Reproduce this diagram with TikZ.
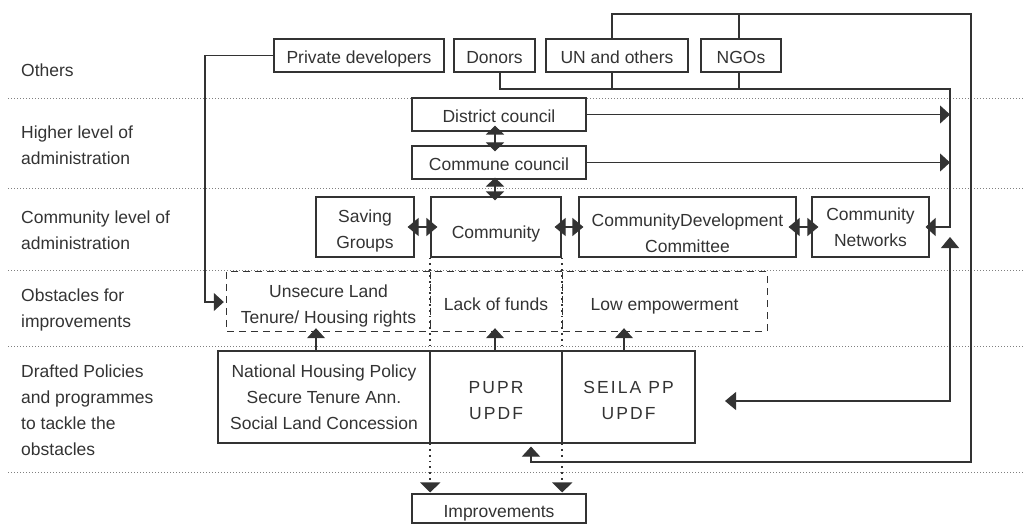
\documentclass[tikz,border=0pt]{standalone}
\usepackage{fontspec}
\setmainfont{Liberation Sans}
\usetikzlibrary{arrows.meta,calc}
\definecolor{ink}{HTML}{333333}
\newcommand{\lowerby}[2]{\raisebox{-#1}[0pt][0pt]{\begin{tabular}{@{}c@{}}#2\end{tabular}}}
\begin{document}
\begin{tikzpicture}[x=1pt,y=-1pt,
  font=\fontsize{17.5}{26}\selectfont,
  box/.style={draw=ink, line width=1.1pt, text=ink, inner sep=0pt, align=center, minimum height=33pt},
  one/.style={text height=17pt, text depth=0pt},
  tall/.style={box, minimum height=60pt},
  obs/.style={inner sep=0pt, text=ink, align=center, minimum height=59pt},
  conn/.style={draw=ink, line width=1.1pt},
  tip/.style={-{Triangle[width=18pt,length=10pt]}},
  dbl/.style={{Triangle[width=18pt,length=11pt]}-{Triangle[width=18pt,length=11pt]}},
  sdbl/.style={{Triangle[width=18pt,length=9pt]}-{Triangle[width=18pt,length=9pt]}},
  grid/.style={draw=gray, line width=0.8pt, dash pattern=on 0.8pt off 2.2pt},
  dashbox/.style={draw=ink, line width=1.1pt, dash pattern=on 7pt off 5pt},
  dots/.style={draw=ink, line width=1.8pt, dash pattern=on 1.8pt off 4pt, -{Triangle[width=20pt,length=10pt]}},
  lbl/.style={anchor=west, align=left, text=ink, inner sep=0pt},
  spaced/.style={font=\fontsize{17.5}{26}\selectfont\addfontfeature{LetterSpace=12}}]
\useasboundingbox (0,0) rectangle (1025,524);

% row separators
\foreach \yy in {98,188,270,346,472} \draw[grid] (8,\yy) -- (1025,\yy);

% left labels
\node[lbl] (lOthers) at (21,70) {Others};
\node[lbl] (lHigher) at (21,145) {Higher level of\\administration};
\node[lbl] (lComm) at (21,230) {Community level of\\administration};
\node[lbl] (lObs) at (21,310) {Obstacles for\\improvements};
\node[lbl] (lPol) at (21,410) {Drafted Policies\\and programmes\\to tackle the\\obstacles};

% others
\node[box, one, minimum width=170pt] (pd) at (359,55.5) {Private developers};
\node[box, one, minimum width=81pt] (donors) at (494.5,55.5) {Donors};
\node[box, one, minimum width=142pt] (un) at (617,55.5) {UN and others};
\node[box, one, minimum width=80pt] (ngo) at (741,55.5) {NGOs};

% higher level
\node[box, one, minimum width=174pt] (dc) at (499,114.5) {District council};
\node[box, one, minimum width=174pt] (cc) at (499,162.5) {Commune council};

% community level
\node[tall, minimum width=98pt] (sg) at (365,227) {\lowerby{8pt}{Saving\\Groups}};
\node[tall, minimum width=130pt] (com) at (496,227) {\raisebox{-11pt}[0pt][0pt]{Community}};
\node[tall, minimum width=217pt] (cdc) at (687.5,227) {\lowerby{12pt}{CommunityDevelopment\\Committee}};
\node[tall, minimum width=117pt] (cn) at (870.5,227) {Community\\Networks};

% obstacles
\node[obs, minimum width=203pt] (ob1) at (328.5,301.5) {\lowerby{8pt}{Unsecure Land\\Tenure/ Housing rights}};
\node[obs, minimum width=132pt] (ob2) at (496,301.5) {\raisebox{-8.5pt}[0pt][0pt]{Lack of funds}};
\node[obs, minimum width=205pt] (ob3) at (664.5,301.5) {\raisebox{-8.5pt}[0pt][0pt]{Low empowerment}};
\draw[dashbox] (ob1.north west) rectangle (ob3.south east);
\draw[dashbox] (ob1.north east) -- (ob1.south east);
\draw[dashbox] (ob2.north east) -- (ob2.south east);

% policies
\node[box, minimum width=212pt, minimum height=92pt] (pol1) at (324,397) {National Housing Policy\\Secure Tenure Ann.\\Social Land Concession};
\node[box, minimum width=132pt, minimum height=92pt, spaced] (pol2) at (496,397) {\lowerby{9pt}{PUPR\\UPDF}};
\node[box, minimum width=133pt, minimum height=92pt, spaced] (pol3) at (628.5,397) {\lowerby{9pt}{SEILA PP\\UPDF}};

% improvements
\node[box, one, minimum width=174pt, minimum height=29pt] (imp) at (499,508.5) {Improvements};

% free ends
\coordinate (tr) at (971,14);
\coordinate (br) at (971,462);
\coordinate (jn) at (950,89);
\coordinate (sp) at (725,401);
\coordinate (np) at (950,237);
\coordinate (pdc) at (205,302);

% dotted lines to improvements
\draw[dots] (ob1.east |- com.south) -- ($(ob1.east |- imp.north)+(0,-1)$);
\draw[dots] (ob2.east |- com.south) -- ($(ob2.east |- imp.north)+(0,-1)$);

% vertical double arrows
\draw[conn,sdbl] ($(dc.south)+(-4,-6)$) -- ($(cc.north)+(-4,6)$);
\draw[conn,sdbl] ($(cc.south)+(-4,-2)$) -- ($(com.north)+(-1,4)$);

% horizontal double arrows
\draw[conn,dbl] ($(sg.east)+(-7,0)$) -- ($(com.west)+(7,0)$);
\draw[conn,dbl] ($(com.east)+(-7,0)$) -- ($(cdc.west)+(5,0)$);
\draw[conn,dbl] ($(cdc.east)+(-8,0)$) -- ($(cn.west)+(7,0)$);

% councils to the right line
\draw[conn,tip] (dc.east) -- (jn |- dc.east);
\draw[conn,tip] (cc.east) -- (jn |- cc.east);

% donors/UN/NGOs lower line to community networks
\draw[conn,tip] (500,0 |- donors.south) |- (jn) -- (jn |- cn.east) -- ($(cn.east)+(-4,0)$);
\draw[conn] (612,0 |- un.south) -- (612,0 |- jn);
\draw[conn] (739,0 |- ngo.south) -- (739,0 |- jn);

% UN/NGOs upper line to PUPR
\draw[conn,tip] (612,0 |- un.north) |- (tr) -- (br) -| ($(pol2.south)+(35,3)$);
\draw[conn] (739,0 |- ngo.north) -- (739,0 |- tr);

% networks <-> policies
\draw[conn,dbl] (sp) -| (np);

% private developers to obstacles
\draw[conn,tip] (pd.west) -| (pdc) -- ($(ob1.west |- pdc)+(-3,0)$);

% policies to obstacles
\draw[conn,tip] (316,0 |- pol1.north) -- ($(316,0 |- ob1.south)+(0,-3)$);
\draw[conn,tip] (495,0 |- pol2.north) -- ($(495,0 |- ob2.south)+(0,-3)$);
\draw[conn,tip] (624,0 |- pol3.north) -- ($(624,0 |- ob3.south)+(0,-3)$);
\end{tikzpicture}
\end{document}
